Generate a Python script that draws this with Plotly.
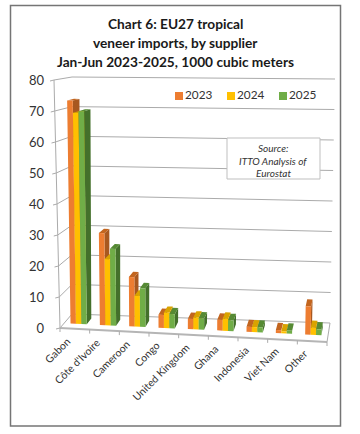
import plotly.graph_objects as go

categories = ["Gabon", "Côte d'Ivoire", "Cameroon", "Congo", "United Kingdom", "Ghana", "Indonesia", "Viet Nam", "Other"]
series_names = ["2023", "2024", "2025"]
v2023 = [73, 30, 16, 4.2, 3.3, 3.4, 1.6, 1.0, 9]
v2024 = [69, 21.6, 10, 5, 3.8, 3.8, 1.6, 0.7, 2.2]
v2025 = [69.6, 25, 12.5, 4.6, 3.6, 3.4, 1.6, 1.0, 1.8]
series_values = [v2023, v2024, v2025]
value_ticks = [0, 10, 20, 30, 40, 50, 60, 70, 80]

W, H = 360, 434
VMAX = 80
N = len(categories)
FLB, FRB, BLB, BRB = (60, 328), (327, 342), (72, 314), (330, 323)
FLT, FRT, BLT, BRT = (54, 80), (333, 87), (72, 77), (335, 79)
U = 29.67
S = 3.1


def px(c, v, d):
    a, b, t = c / N, v / VMAX, d
    def lerp(p, q, f):
        return (p[0] + (q[0] - p[0]) * f, p[1] + (q[1] - p[1]) * f)
    fb = lerp(FLB, FRB, a)
    bb = lerp(BLB, BRB, a)
    ft = lerp(FLT, FRT, a)
    bt = lerp(BLT, BRT, a)
    return lerp(lerp(fb, bb, t), lerp(ft, bt, t), b)


def to_axis(p):
    return ((p[0] - 60) / U, (328 - p[1]) / S)


def proj(c, v, d):
    return to_axis(px(c, v, d))


def path(points):
    xs, ys = [], []
    for pts in points:
        for q in pts:
            xs.append(q[0])
            ys.append(q[1])
        xs.append(None)
        ys.append(None)
    return xs, ys


colors = {
    "2023": ("#ED7D31", "#A85820", "#C2651F"),
    "2024": ("#FFC000", "#BF8F00", "#D9A300"),
    "2025": ("#70AD47", "#44702B", "#568A34"),
}
GRID = "#ABABAB"
fig = go.Figure()


def line(points, color=GRID, width=1):
    xs, ys = path(points)
    fig.add_trace(go.Scatter(x=xs, y=ys, mode="lines", line=dict(color=color, width=width),
                             hoverinfo="skip", showlegend=False))


# floor, walls and gridlines
line([[proj(0, t, 0), proj(0, t, 1), proj(N, t, 1)] for t in value_ticks if t > 0])
line([[proj(0, 0, 0), proj(0, VMAX, 0)]])
line([[proj(0, 0, 1), proj(N, 0, 1), proj(N, 0, 0)]])
line([[proj(0, 0, 0), proj(0, 0, 1)]])
line([[proj(0, 0, 0), proj(N, 0, 0)]], color="#B5B5B5", width=2)
tick_pts = []
for i in range(N + 1):
    a = px(i, 0, 0)
    tick_pts.append([to_axis(a), to_axis((a[0], a[1] + 4))])
for t in value_ticks:
    a = px(0, t, 0)
    tick_pts.append([to_axis(a), to_axis((a[0] - 4, a[1] + 1))])
line(tick_pts)

D0, D1 = 0.34, 0.74
START, BW = 0.22, 0.185
for s, (name, vals) in enumerate(zip(series_names, series_values)):
    front, side, top = [], [], []
    for i, v in enumerate(vals):
        c0 = i + START + s * BW
        c1 = c0 + BW
        front.append([proj(c0, 0, D0), proj(c1, 0, D0), proj(c1, v, D0), proj(c0, v, D0), proj(c0, 0, D0)])
        side.append([proj(c1, 0, D0), proj(c1, 0, D1), proj(c1, v, D1), proj(c1, v, D0), proj(c1, 0, D0)])
        top.append([proj(c0, v, D0), proj(c1, v, D0), proj(c1, v, D1), proj(c0, v, D1), proj(c0, v, D0)])
    cf, cs, ct = colors[name]
    for label, pts, col in ((" side", side, cs), (" top", top, ct), (" front", front, cf)):
        xs, ys = path(pts)
        fig.add_trace(go.Scatter(x=xs, y=ys, mode="lines", fill="toself", fillcolor=col,
                                 line=dict(width=0, color=col), name=name + label,
                                 showlegend=False, hoverinfo="skip"))

# legend keys
for name, sx in zip(series_names, (179, 231, 283)):
    xa, ya = to_axis((sx, 96))
    fig.add_trace(go.Scatter(x=[xa], y=[ya], mode="markers+text", text=[name], textposition="middle right",
                             marker=dict(symbol="square", size=8, color=colors[name][0]),
                             textfont=dict(family="Lato", size=11.8, color="#333333"),
                             name=name, showlegend=False, hoverinfo="skip"))

annotations = []
for i, name in enumerate(categories):
    a = px(i + 0.5, 0, 0)
    xa, ya = to_axis((a[0] + 1, a[1] + 3))
    annotations.append(dict(x=xa, y=ya, xref="x", yref="y", text=name, showarrow=False, textangle=-45,
                            xanchor="right", yanchor="top", font=dict(family="Lato", size=10.5, color="#333333")))
for text, py, fs in (("Chart 6: EU27 tropical", 24, 13.7), ("veneer imports, by supplier", 43, 13.7),
                     ("Jan-Jun 2023-2025, 1000 cubic meters", 61, 13.7)):
    annotations.append(dict(x=175 / W, y=1 - py / H, xref="paper", yref="paper", text="<b>%s</b>" % text, showarrow=False,
                            xanchor="center", yanchor="middle", font=dict(family="Lato", size=fs, color="#1a1a1a")))
for text, py in (("Source:", 148), ("ITTO Analysis of", 161), ("Eurostat", 173)):
    annotations.append(dict(x=273 / W, y=1 - py / H, xref="paper", yref="paper", text="<i>%s</i>" % text, showarrow=False,
                            xanchor="center", yanchor="middle", font=dict(family="Lato", size=10, color="#333333")))

shapes = [
    dict(type="rect", xref="paper", yref="paper", x0=10.5 / W, x1=340.5 / W, y0=1 - 426 / H, y1=1 - 5.5 / H,
         line=dict(color="#757575", width=1.5), layer="above"),
    dict(type="rect", xref="paper", yref="paper", x0=227 / W, x1=320 / W, y0=1 - 179 / H, y1=1 - 138 / H,
         line=dict(color="#BFBFBF", width=1), fillcolor="white", layer="above"),
]

fig.update_layout(
    width=W, height=H, margin=dict(l=0, r=0, t=0, b=0), paper_bgcolor="white", plot_bgcolor="white",
    showlegend=False, shapes=shapes, annotations=annotations,
    xaxis=dict(visible=False, range=[-60 / U, (W - 60) / U], domain=[0, 1], fixedrange=True),
    yaxis=dict(range=[(328 - H) / S, 328 / S], domain=[0, 1], anchor="free", position=44 / W,
               tickvals=value_ticks, ticks="", showgrid=False, zeroline=False, showline=False, fixedrange=True,
               tickfont=dict(family="Lato", size=13, color="#333333")),
)
fig.write_html("out.html", config={"displayModeBar": False}, post_script="document.body.style.margin='0';")
